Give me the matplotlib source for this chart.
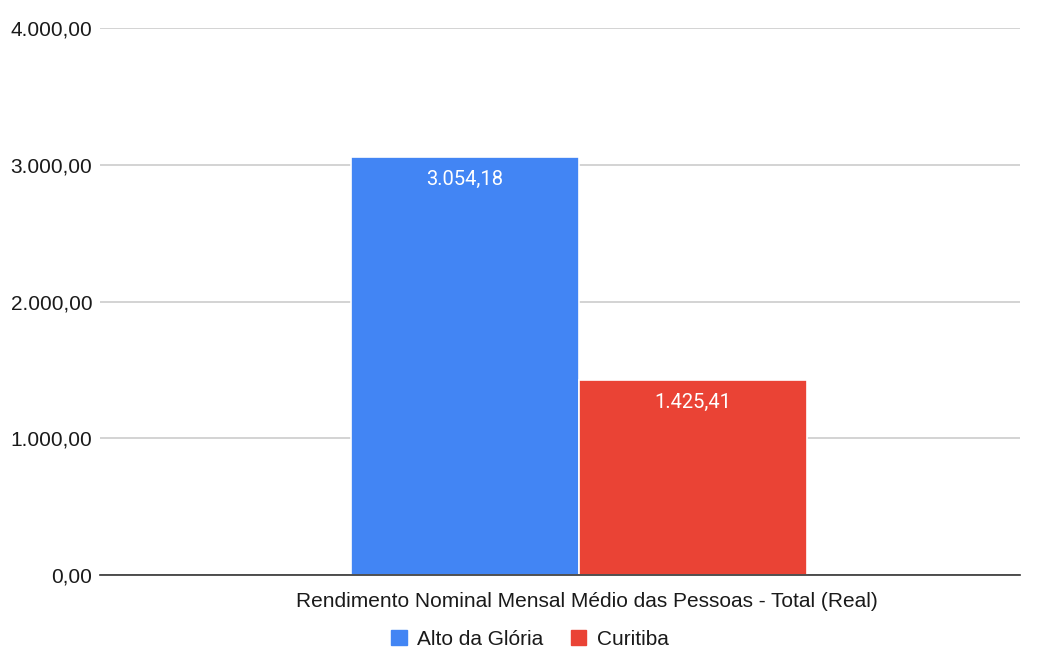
import numpy as np
import matplotlib.pyplot as plt
from matplotlib.patches import Patch
from matplotlib.ticker import FuncFormatter

# dados
categoria = ["Rendimento Nominal Mensal Médio das Pessoas - Total (Real)"]
series = ["Alto da Glória", "Curitiba"]
valores = [3054.18, 1425.41]
cores = ["#4285F4", "#EA4335"]
yticks = [0, 1000, 2000, 3000, 4000]


def fmt_br(v, pos=None):
    s = "{:,.2f}".format(v)
    return s.replace(",", "X").replace(".", ",").replace("X", ".")


plt.rcParams['font.family'] = ['Liberation Sans', 'DejaVu Sans']

fig = plt.figure(figsize=(10.48, 6.48), dpi=100)
ax = fig.add_axes([100/1048, 73/648, 920/1048, 547/648])

larg = 0.4
offs = [-larg/2, larg/2]
for i in range(len(series)):
    ax.bar(offs[i], valores[i], width=larg, color=cores[i],
           edgecolor="white", linewidth=1.2, zorder=3)
    ax.text(offs[i], valores[i] - 160, fmt_br(valores[i]), ha="center",
            va="center", color="white", fontsize=14.5, family="Roboto", zorder=4)

ax.set_xlim(-0.84, 0.774)
ax.set_ylim(0, 4000)
ax.set_yticks(yticks)
ax.yaxis.set_major_formatter(FuncFormatter(fmt_br))
ax.set_xticks([0.015])
ax.set_xticklabels(categoria)
ax.tick_params(axis="both", length=0, labelsize=15, colors="#1a1a1a")
ax.tick_params(axis="y", pad=5.5)
ax.tick_params(axis="x", pad=12)
ax.grid(axis="y", color="#cccccc", linewidth=1.2, zorder=0)
for s in ["top", "right", "left"]:
    ax.spines[s].set_visible(False)
ax.spines["bottom"].set_color("#333333")
ax.spines["bottom"].set_linewidth(1.2)
ax.spines["bottom"].set_zorder(5)

handles = [Patch(color=c, label=l) for c, l in zip(cores, series)]
fig.legend(handles=handles, loc="lower center", bbox_to_anchor=(530/1048, -0.03),
           ncol=2, frameon=False, fontsize=15, handlelength=0.75, handleheight=0.75,
           handletextpad=0.5, columnspacing=1.3, labelcolor="#1a1a1a")

fig.savefig("out.png", dpi=100)
